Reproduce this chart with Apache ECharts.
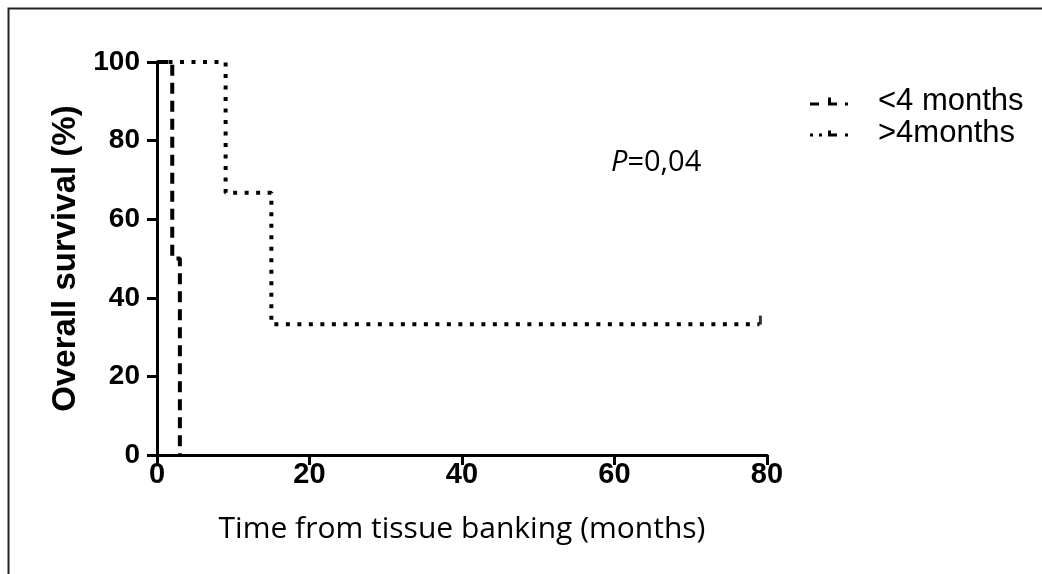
<!DOCTYPE html>
<html>
<head>
<meta charset="utf-8">
<script src="https://cdn.jsdelivr.net/npm/echarts@6/dist/echarts.min.js"></script>
<style>html,body{margin:0;padding:0;background:#fff;}#c{width:1042px;height:574px;}</style>
</head>
<body>
<div id="c"></div>
<script>
// Kaplan-Meier step points [months, survival %]
var seriesNames = ['<4 months', '>4months'];
var shortSurv = [[0,100],[2,100],[2,50],[3,50],[3,0]];
var longSurv = [[0,100],[9,100],[9,66.7],[15,66.7],[15,33.3],[79,33.3]];
var longCensor = [[79,33.3]];
var xTicks = [0,20,40,60,80];
var yTicks = [0,20,40,60,80,100];

// GraphPad-style legend glyphs (dash/dot + censor mark + dot)
var iconDash = 'path://M0 5H9V8H0Z M18 0H21V5H27V8H18Z M35 5H38V8H35Z';
var iconDot = 'path://M0 5H3V8H0Z M9 5H12V8H9Z M18 2H21V5H27V8H18Z M35 5H38V8H35Z';

var chart = echarts.init(document.getElementById('c'), null, {renderer:'canvas'});
var option = {
  animation: false,
  backgroundColor: '#fff',
  grid: {left:157, top:62, width:610, height:393, containLabel:false},
  xAxis: {
    type:'value', min:xTicks[0], max:xTicks[xTicks.length-1], interval:20,
    name:'Time from tissue banking (months)', nameLocation:'middle', nameGap:59,
    nameTextStyle:{fontFamily:'Open Sans', fontSize:30, color:'#000'},
    axisLine:{show:true, onZero:false, lineStyle:{color:'#000', width:3}},
    axisTick:{show:true, length:10, lineStyle:{color:'#000', width:3}},
    axisLabel:{fontFamily:'Liberation Sans', fontWeight:'bold', fontSize:29, color:'#000', margin:5},
    splitLine:{show:false}
  },
  yAxis: {
    type:'value', min:yTicks[0], max:yTicks[yTicks.length-1], interval:20,
    name:'Overall survival (%)', nameLocation:'middle', nameGap:69, nameRotate:90,
    nameTextStyle:{fontFamily:'Liberation Sans', fontWeight:'bold', fontSize:33, color:'#000'},
    axisLine:{show:true, onZero:false, lineStyle:{color:'#000', width:3}},
    axisTick:{show:true, length:10, lineStyle:{color:'#000', width:3}},
    axisLabel:{fontFamily:'Liberation Sans', fontWeight:'bold', fontSize:28, color:'#000', margin:17},
    splitLine:{show:false}
  },
  legend: {
    orient:'vertical', left:805, top:81, itemGap:1, itemWidth:38, itemHeight:8,
    textStyle:{fontFamily:'Liberation Sans', fontSize:31, color:'#000', padding:[0,0,0,25]},
    data:[{name:seriesNames[0], icon:iconDash},{name:seriesNames[1], icon:iconDot}]
  },
  series: [
    {name:seriesNames[0], type:'line', data:shortSurv, showSymbol:false, symbol:'none',
     itemStyle:{color:'#000'},
     lineStyle:{color:'#000', width:4, type:[11,7], cap:'butt'}, z:3},
    {name:seriesNames[1], type:'line', data:longSurv, showSymbol:false, symbol:'none',
     itemStyle:{color:'#000'},
     lineStyle:{color:'#000', width:4, type:[4,7.5], cap:'butt'}, z:2},
    {name:seriesNames[1]+' censored', type:'scatter', data:longCensor, symbol:'rect',
     symbolSize:[3,9], symbolOffset:[1,-4], itemStyle:{color:'#000'}, z:4}
  ],
  graphic: [
    {type:'rect', left:6, top:6, shape:{width:1100, height:700}, style:{fill:'none', stroke:'#222', lineWidth:2}, silent:true},
    {type:'text', left:611, top:148, style:{
      text:'{i|P}{n|=0,04}',
      rich:{i:{fontFamily:'Open Sans', fontStyle:'italic', fontSize:29, fill:'#000'},
            n:{fontFamily:'Open Sans', fontSize:29, fill:'#000'}}
    }}
  ]
};
chart.setOption(option);
</script>
</body>
</html>
